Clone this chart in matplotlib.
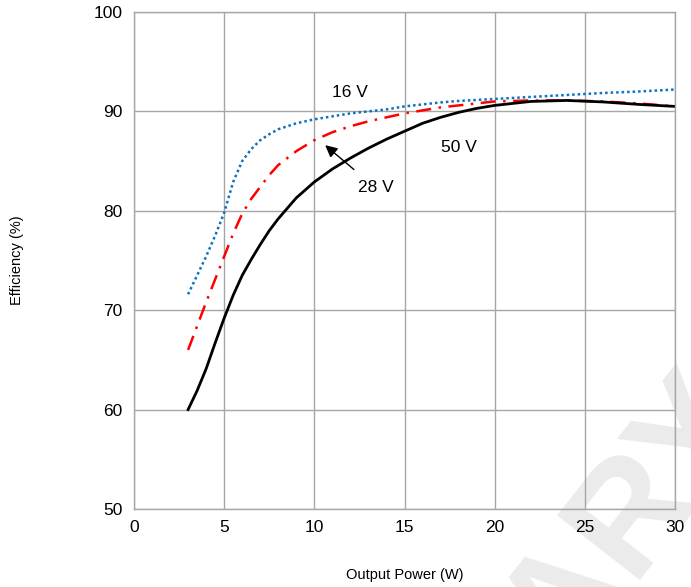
import matplotlib.pyplot as plt

plt.rcParams['font.family'] = ['Liberation Sans', 'DejaVu Sans']

# output power (W)
power = [3, 3.5, 4, 4.5, 5, 5.5, 6, 6.5, 7, 7.5, 8, 9, 10, 11, 12, 13, 14, 15,
         16, 17, 18, 19, 20, 22, 24, 26, 28, 30]

eff_16v = [71.6, 73.5, 75.4, 77.5, 79.8, 82.9, 85.0, 86.2, 87.1, 87.7, 88.2, 88.8, 89.2, 89.5,
           89.8, 90.0, 90.2, 90.5, 90.7, 90.9, 91.05, 91.15, 91.25, 91.45, 91.65, 91.85, 92.0, 92.2]
eff_28v = [66.0, 68.4, 70.8, 73.1, 75.4, 77.7, 79.7, 81.2, 82.4, 83.6, 84.6, 86.0, 87.1, 87.9,
           88.5, 89.0, 89.4, 89.8, 90.1, 90.4, 90.6, 90.8, 91.0, 91.1, 91.1, 91.0, 90.8, 90.5]
eff_50v = [60.0, 61.9, 64.1, 66.7, 69.2, 71.5, 73.5, 75.1, 76.6, 78.0, 79.2, 81.3, 82.9, 84.2,
           85.3, 86.3, 87.2, 88.0, 88.8, 89.4, 89.9, 90.3, 90.6, 91.0, 91.1, 90.95, 90.7, 90.5]

x_ticks = [0, 5, 10, 15, 20, 25, 30]
y_ticks = [50, 60, 70, 80, 90, 100]


def main():
    fig = plt.figure(figsize=(6.91, 5.87), dpi=100)
    ax = fig.add_axes([0.1939, 0.1329, 0.7830, 0.8467])

    ax.plot(power, eff_16v, color='#0a72c2', linestyle=(0, (1, 1.2)), linewidth=1.8)
    ax.plot(power, eff_28v, color='#ff0000', linestyle=(0, (6, 3, 1, 3)), linewidth=1.8)
    ax.plot(power, eff_50v, color='black', linestyle='-', linewidth=2.0)

    ax.set_xlim(0, 30)
    ax.set_ylim(50, 100)
    ax.set_xticks(x_ticks)
    ax.set_yticks(y_ticks)
    ax.tick_params(length=0, labelsize=12.5, pad=8)
    ax.grid(True, color='#a6a6a6', linewidth=1.0)
    ax.set_axisbelow(True)
    for s in ax.spines.values():
        s.set_color('#a6a6a6')
        s.set_linewidth(1.0)

    ax.set_xlabel('Output Power (W)', fontsize=10.5, labelpad=24)
    ax.set_ylabel('Efficiency (%)', fontsize=10.5, labelpad=50)

    ax.text(12.0, 91.9, '16 V', fontsize=12.5, ha='center', va='center')
    ax.text(18.0, 86.4, '50 V', fontsize=12.5, ha='center', va='center')
    ax.annotate('28 V', xy=(10.6, 86.6), xytext=(13.4, 82.3), fontsize=12.5,
                ha='center', va='center',
                arrowprops=dict(arrowstyle='-|>', color='black', lw=1.0,
                                mutation_scale=18, shrinkA=9, shrinkB=0))

    # watermark, under the grid
    ax.text(1.0965, 0.2905, 'PRELIMINARY', transform=fig.transFigure,
            fontsize=110, fontweight='bold', color='#ebebeb',
            rotation=52, rotation_mode='anchor', ha='right', va='baseline',
            clip_on=False, zorder=0.2)

    fig.savefig('out.png', dpi=100)


if __name__ == '__main__':
    main()
